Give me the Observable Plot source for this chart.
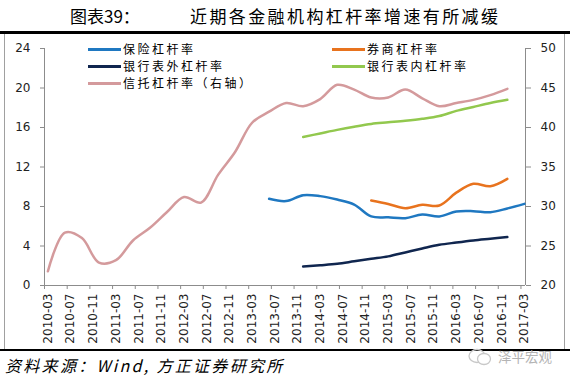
<!DOCTYPE html>
<html><head><meta charset="utf-8">
<script src="https://cdn.jsdelivr.net/npm/d3@7"></script>
<script src="https://cdn.jsdelivr.net/npm/@observablehq/plot@0.6"></script>
<style>
body{margin:0;background:#fff;}
#page{position:relative;width:570px;height:383px;overflow:hidden;background:#fff;font-family:"Noto Sans CJK SC","Noto Sans",sans-serif;color:#000;}
.rule{position:absolute;left:0;width:570px;background:#000;}
#frame{position:absolute;left:4px;top:34px;width:561px;height:315px;border-left:1px solid #a0a0a0;border-right:1px solid #a0a0a0;box-sizing:border-box;}
#chart{position:absolute;left:0;top:33px;}
#title{position:absolute;top:5px;left:70px;font-size:17px;white-space:nowrap;line-height:22px;}
#title .b{position:absolute;left:120px;letter-spacing:2.4px;}
.leg{position:absolute;font-size:12px;letter-spacing:2.5px;line-height:14px;white-space:nowrap;}
.leg .sw{display:inline-block;width:33px;height:2.5px;vertical-align:middle;margin-right:2px;position:relative;top:-1px;}
#source{position:absolute;left:5px;top:354px;font-size:16px;font-style:italic;letter-spacing:2.3px;white-space:nowrap;line-height:22px;}
#wm{position:absolute;left:498px;top:347px;font-size:13.5px;color:#b4b4b4;white-space:nowrap;line-height:18px;}
#wmicon{position:absolute;left:467px;top:348px;}
</style></head><body>
<div id="page">
  <div id="title"><span>图表39：</span><span class="b">近期各金融机构杠杆率增速有所减缓</span></div>
  <div class="rule" style="top:31px;height:3px"></div>
  <div id="frame"></div>
  <div id="chart"></div>
  <div class="rule" style="top:349px;height:2px"></div>
  <div id="source">资料来源：Wind, 方正证券研究所</div>
  <svg id="wmicon" width="26" height="18"><ellipse cx="10" cy="8" rx="8" ry="6.5" fill="none" stroke="#c8c8c8" stroke-width="1.3"/><ellipse cx="17" cy="11" rx="6.5" ry="5.5" fill="#fff" stroke="#c8c8c8" stroke-width="1.3"/></svg>
  <div id="wm">泽平宏观</div>
</div>
<script>
// quarter-end dates
const quarters = ["2010-03","2010-06","2010-09","2010-12","2011-03","2011-06","2011-09","2011-12",
  "2012-03","2012-06","2012-09","2012-12","2013-03","2013-06","2013-09","2013-12",
  "2014-03","2014-06","2014-09","2014-12","2015-03","2015-06","2015-09","2015-12",
  "2016-03","2016-06","2016-09","2016-12","2017-03"];

// x-axis tick labels
const tickLabels = ["2010-03","2010-07","2010-11","2011-03","2011-07","2011-11","2012-03","2012-07",
  "2012-11","2013-03","2013-07","2013-11","2014-03","2014-07","2014-11","2015-03","2015-07",
  "2015-11","2016-03","2016-07","2016-11","2017-03"];
const leftTicks = [0, 4, 8, 12, 16, 20, 24];
const rightTicks = [20, 25, 30, 35, 40, 45, 50];

// series (left axis unless noted)
const insuranceName = "保险杠杆率";
const insuranceStart = "2013-06";
const insuranceValues = [8.78, 8.55, 9.15, 9.05, 8.7, 8.2, 7.0, 6.9, 6.82, 7.19, 6.99, 7.49, 7.53, 7.42, 7.8, 8.27];

const brokerName = "券商杠杆率";
const brokerStart = "2014-12";
const brokerValues = [8.6, 8.25, 7.83, 8.17, 8.1, 9.4, 10.3, 10.05, 10.8];

const bankOffName = "银行表外杠杆率";
const bankOffStart = "2013-12";
const bankOffValues = [1.92, 2.05, 2.2, 2.45, 2.7, 2.95, 3.35, 3.75, 4.12, 4.35, 4.56, 4.73, 4.9];

const bankOnName = "银行表内杠杆率";
const bankOnStart = "2013-12";
const bankOnValues = [38.8, 39.25, 39.7, 40.1, 40.45, 40.65, 40.85, 41.1, 41.45, 42.1, 42.6, 43.1, 43.5]; // right axis

const trustName = "信托杠杆率（右轴）";
const trustStart = "2010-03";
const trustValues = [21.8, 26.7, 26.0, 22.9, 23.2, 25.7, 27.3, 29.3, 31.2, 30.5, 34.0, 36.9, 40.6, 42.0,
  43.1, 42.7, 43.6, 45.4, 44.8, 43.8, 43.8, 44.8, 43.7, 42.7, 43.1, 43.5, 44.1, 44.9]; // right axis

// helpers
const monthIndex = s => { const [y, m] = s.split("-").map(Number); return (y - 2010) * 12 + (m - 3); };
const toLeft = v => (v - 20) * 24 / 30; // right axis value -> left scale
const build = (start, values, right) => {
  const i0 = quarters.indexOf(start);
  return values.map((v, i) => ({m: monthIndex(quarters[i0 + i]), v: right ? toLeft(v) : v}));
};

const series = [
  {name: insuranceName, color: "#1f78c1", data: build(insuranceStart, insuranceValues, false)},
  {name: brokerName, color: "#e8731e", data: build(brokerStart, brokerValues, false)},
  {name: bankOffName, color: "#10264f", data: build(bankOffStart, bankOffValues, false)},
  {name: bankOnName, color: "#92c84e", data: build(bankOnStart, bankOnValues, true)},
  {name: trustName, color: "#d49a9c", data: build(trustStart, trustValues, true)}
];

const xMin = -0.6, xMax = 84.2;
const labelPos = tickLabels.map(monthIndex);
const tickMarkPos = labelPos.map(m => m + xMin);

const axisColor = "#8c8c8c";
const chart = Plot.plot({
  width: 570, height: 314,
  marginTop: 15, marginBottom: 62, marginLeft: 44, marginRight: 45,
  style: {fontFamily: "DejaVu Sans, sans-serif", fontSize: "12px", color: "#222", background: "transparent"},
  x: {type: "linear", domain: [xMin, xMax]},
  y: {domain: [0, 24]},
  marks: [
    Plot.ruleX([xMin], {y1: 0, y2: 24, stroke: axisColor}),
    Plot.ruleX([xMax], {y1: 0, y2: 24, stroke: axisColor}),
    Plot.ruleY([0], {x1: xMin, x2: xMax, stroke: axisColor}),
    Plot.axisY({ticks: leftTicks, tickSize: 4, tickPadding: 10, stroke: axisColor, label: null, tickFormat: d => String(d)}),
    Plot.axisY({anchor: "right", ticks: rightTicks.map(toLeft), tickSize: 5, tickPadding: 10, stroke: axisColor, label: null,
      tickFormat: d => String(Math.round(d * 30 / 24 + 20))}),
    Plot.axisX({ticks: tickMarkPos, tickSize: 4, stroke: axisColor, label: null, tickFormat: () => ""}),
    Plot.axisX({ticks: labelPos, tickSize: 0, tickPadding: 8, tickRotate: -90, label: null,
      tickFormat: d => tickLabels[labelPos.indexOf(d)]}),
    ...series.map(s => Plot.line(s.data, {x: "m", y: "v", stroke: s.color, strokeWidth: 2.5, curve: "catmull-rom"}))
  ]
});
document.getElementById("chart").appendChild(chart);

// legend
const legendPos = [
  {left: 88, top: 42}, {left: 332, top: 42},
  {left: 88, top: 59}, {left: 332, top: 59},
  {left: 88, top: 76}
];
const page = document.getElementById("page");
series.forEach((s, i) => {
  const d = document.createElement("div");
  d.className = "leg";
  d.style.left = legendPos[i].left + "px";
  d.style.top = legendPos[i].top + "px";
  const sw = document.createElement("span");
  sw.className = "sw";
  sw.style.background = s.color;
  d.appendChild(sw);
  d.appendChild(document.createTextNode(s.name));
  page.appendChild(d);
});
</script>
</body></html>
